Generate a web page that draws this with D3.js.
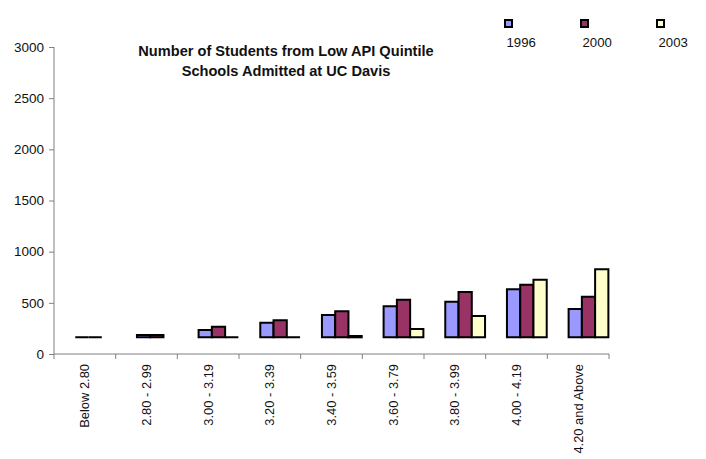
<!DOCTYPE html>
<html><head><meta charset="utf-8">
<script src="https://cdn.jsdelivr.net/npm/d3@7/dist/d3.min.js"></script>
<style>body{margin:0;background:#fff}svg{display:block}text{font-family:"Liberation Sans",Arial,sans-serif;fill:#111}</style>
</head><body>
<svg id="chart" width="706" height="459"></svg>
<script>
const categories = ["Below 2.80","2.80 - 2.99","3.00 - 3.19","3.20 - 3.39","3.40 - 3.59","3.60 - 3.79","3.80 - 3.99","4.00 - 4.19","4.20 and Above"];
const seriesNames = ["1996","2000","2003"];
const values1996 = [0, 22, 71, 143, 218, 303, 348, 469, 277];
const values2000 = [0, 22, 104, 166, 255, 367, 443, 514, 397];
const values2003 = [null, null, 0, 0, 13, 81, 208, 563, 665];
const colors = ["#9999FF","#993366","#FFFFCC"];
const yTicks = [0,500,1000,1500,2000,2500,3000];
const baseValue = 163; // bars in the original start slightly above the axis
const titleLines = ["Number of Students from Low API Quintile","Schools Admitted at UC Davis"];

const seriesValues = [values1996, values2000, values2003];
const svg = d3.select("#chart");

const y = d3.scaleLinear().domain([0,3000]).range([354,47]);
const x0 = d3.scaleBand().domain(categories).range([54,609]).paddingInner(0).paddingOuter(0);
const bw = x0.bandwidth();
const x1 = d3.scaleBand().domain(seriesNames).range([bw*0.345, bw*0.99]);

// Y axis
const yAxis = svg.append("g").attr("transform","translate(54,0)")
  .call(d3.axisLeft(y).tickValues(yTicks).tickSize(5).tickPadding(5).tickFormat(d3.format("d")));
yAxis.select(".domain").attr("stroke","#808080").attr("d","M0,47V354");
yAxis.selectAll(".tick line").attr("stroke","#808080");
yAxis.selectAll(".tick text").attr("font-size","13.5px").attr("font-family","Liberation Sans, Arial, sans-serif").attr("fill","#111");

// X axis line + boundary ticks
const xg = svg.append("g");
xg.append("line").attr("x1",54).attr("x2",609).attr("y1",y(0)).attr("y2",y(0)).attr("stroke","#808080");
const bounds = categories.map(c=>x0(c)).concat([x0(categories[categories.length-1])+bw]);
xg.selectAll("line.tk").data(bounds).join("line").attr("class","tk")
  .attr("x1",d=>d).attr("x2",d=>d).attr("y1",y(0)).attr("y2",y(0)+5).attr("stroke","#808080");
xg.selectAll("text.cl").data(categories).join("text").attr("class","cl")
  .attr("transform",d=>`translate(${x0(d)+bw/2},${y(0)+10}) rotate(-90)`)
  .attr("text-anchor","end").attr("dy","0.35em").attr("font-size","12.9px").text(d=>d);

// Bars (paths so that zero-height bars still show their outline)
const groups = svg.append("g").selectAll("g").data(categories).join("g")
  .attr("transform",d=>`translate(${x0(d)},0)`);
groups.selectAll("path").data((c,i)=>seriesNames.map((s,j)=>({s, j, v: seriesValues[j][i]})).filter(d=>d.v!==null))
  .join("path")
  .attr("d",d=>{
    const xa = x1(d.s), w = x1.bandwidth(), yt = y(baseValue+d.v), yb = y(baseValue);
    return `M${xa},${yb}V${yt}H${xa+w}V${yb}Z`;
  })
  .attr("fill",d=>colors[d.j]).attr("stroke","#000").attr("stroke-width",2).attr("stroke-linejoin","miter");

// Title
svg.append("g").selectAll("text").data(titleLines).join("text")
  .attr("x",286).attr("y",(d,i)=>55.5+i*20.5).attr("text-anchor","middle")
  .attr("font-size","14.6px").attr("font-weight","bold").attr("fill","#222").text(d=>d);

// Legend
const legX = [505, 581, 657];
const leg = svg.append("g").selectAll("g").data(seriesNames).join("g")
  .attr("transform",(d,i)=>`translate(${legX[i]},0)`);
leg.append("rect").attr("x",0).attr("y",20).attr("width",7).attr("height",7)
  .attr("fill",(d,i)=>colors[i]).attr("stroke","#000").attr("stroke-width",2);
leg.append("text").attr("x",1.5).attr("y",47).attr("font-size","13.2px").text(d=>d);
</script>
</body></html>
